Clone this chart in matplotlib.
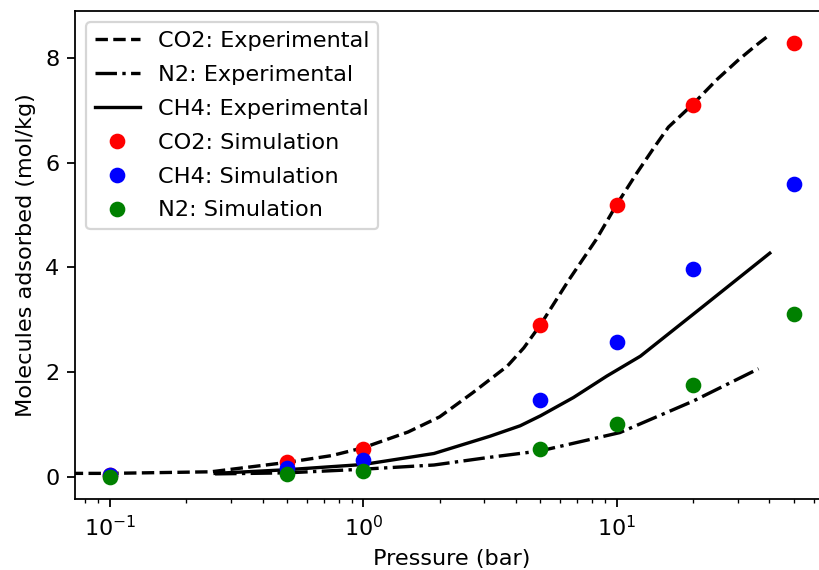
import matplotlib
matplotlib.use("Agg")
import matplotlib.pyplot as plt

# Simulation data
sim_pressure = [0.1, 0.5, 1.0, 5.0, 10.0, 20.0, 50.0]
co2_sim = [0.03, 0.27, 0.52, 2.89, 5.19, 7.10, 8.29]
ch4_sim = [0.02, 0.17, 0.32, 1.46, 2.58, 3.97, 5.59]
n2_sim = [0.00, 0.04, 0.10, 0.53, 1.00, 1.75, 3.11]

# Experimental data
co2_exp_p = [0.07, 0.1, 0.25, 0.5, 0.75, 1.0, 1.5, 2.0, 2.7, 3.7, 4.3, 5.0, 6.5, 8.3,
             10, 12, 14, 16, 20, 25, 30, 35, 40]
co2_exp_y = [0.06, 0.06, 0.09, 0.27, 0.40, 0.55, 0.85, 1.14, 1.60, 2.11, 2.46, 2.90, 3.77, 4.53,
             5.20, 5.80, 6.28, 6.68, 7.12, 7.60, 7.95, 8.22, 8.44]

ch4_exp_p = [0.26, 0.5, 1.0, 1.9, 3.16, 4.16, 5.0, 6.75, 9.14, 12.4, 21.9, 40.2]
ch4_exp_y = [0.06, 0.13, 0.23, 0.44, 0.77, 0.97, 1.16, 1.51, 1.92, 2.30, 3.25, 4.27]

n2_exp_p = [0.26, 0.5, 1.0, 1.9, 3.07, 5, 10.3, 20, 36.3]
n2_exp_y = [0.05, 0.07, 0.14, 0.22, 0.36, 0.49, 0.84, 1.44, 2.06]

DPI = 161
fig = plt.figure(figsize=(819 / DPI, 570 / DPI), dpi=DPI)
ax = fig.add_axes([75 / 819, (570 - 499) / 570, (828 - 75) / 819, (499 - 11) / 570])

ax.plot(co2_exp_p, co2_exp_y, 'k--', label='CO2: Experimental')
ax.plot(n2_exp_p, n2_exp_y, 'k-.', label='N2: Experimental')
ax.plot(ch4_exp_p, ch4_exp_y, 'k-', label='CH4: Experimental')
ax.plot(sim_pressure, co2_sim, 'o', color='red', label='CO2: Simulation')
ax.plot(sim_pressure, ch4_sim, 'o', color='blue', label='CH4: Simulation')
ax.plot(sim_pressure, n2_sim, 'o', color='green', label='N2: Simulation')

ax.set_xscale('log')
ax.set_xlim(10 ** -1.138, 10 ** 1.834)
ax.set_ylim(-0.43, 8.90)
ax.set_xlabel('Pressure (bar)')
ax.set_ylabel('Molecules adsorbed (mol/kg)')
ax.legend(loc='upper left', labelspacing=0.62)

fig.savefig('out.png', dpi=DPI)
